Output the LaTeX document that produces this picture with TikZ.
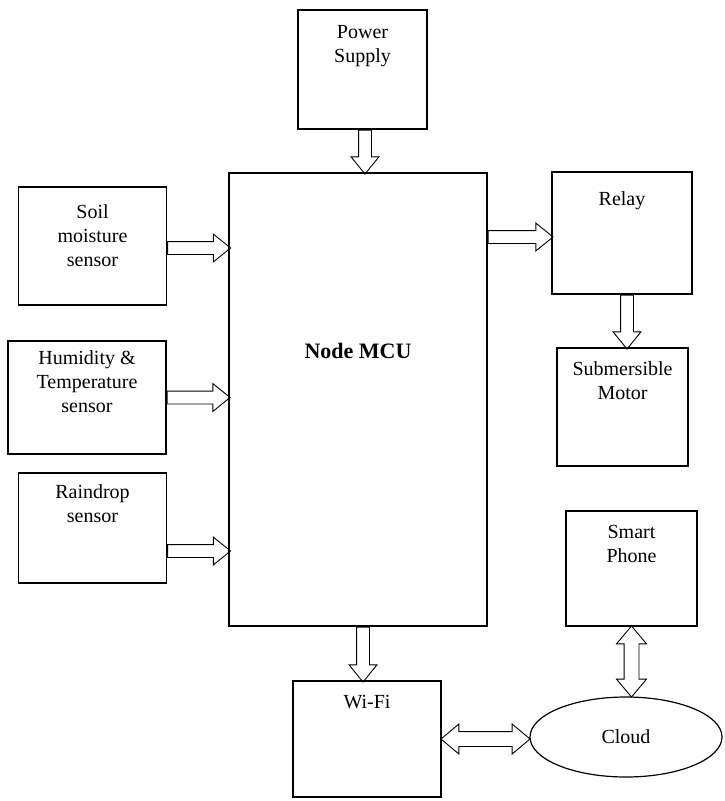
\documentclass[tikz,border=0pt]{standalone}
\usepackage{fontspec}
\setmainfont{Liberation Serif}
\usetikzlibrary{positioning,calc,shapes.geometric,shapes.arrows}

\tikzset{
  blk/.style={draw, line width=1.2pt, inner sep=0pt},
  lbl/.style={align=center, inner sep=0pt, font=\fontsize{20}{24}\selectfont},
  barrow/.style={single arrow, draw, line width=0.9pt, inner sep=6pt, anchor=tail,
    single arrow head extend=7.5pt, single arrow tip angle=78},
  darrow/.style={double arrow, draw, line width=0.9pt, inner sep=7pt,
    double arrow head extend=7.5pt, double arrow tip angle=80},
}

\begin{document}
\begin{tikzpicture}[x=1pt,y=-1pt]
  \useasboundingbox (0,0) rectangle (724,801);

% blocks
  \node[blk, minimum width=129pt, minimum height=119pt] (pwr)   at (362.5,69.5) {};
  \node[blk, minimum width=258pt, minimum height=453pt] (mcu)   at (358,399.5) {};
  \node[blk, minimum width=148pt, minimum height=118pt] (soil)  at (92.5,246) {};
  \node[blk, minimum width=158pt, minimum height=113pt] (hum)   at (87,397.5) {};
  \node[blk, minimum width=148pt, minimum height=110pt] (rain)  at (92.5,528) {};
  \node[blk, minimum width=140pt, minimum height=122pt] (relay) at (622,233) {};
  \node[blk, minimum width=131pt, minimum height=118pt] (motor) at (622.5,407) {};
  \node[blk, minimum width=131pt, minimum height=115pt] (phone) at (631.5,568.5) {};
  \node[blk, minimum width=148pt, minimum height=116pt] (wifi)  at (367,739) {};
  \node[blk, ellipse, minimum width=192pt, minimum height=80pt, lbl] (cloud) at (626,737) {Cloud};

% texts
  \node[lbl, below=16pt of pwr.north]   (pwrtxt)   {Power\\Supply};
  \node[lbl, below=171pt of mcu.north, font=\bfseries\fontsize{22}{26}\selectfont] (mcutxt) {Node MCU};
  \node[lbl, below=18pt of soil.north]  (soiltxt)  {Soil\\moisture\\sensor};
  \node[lbl, below=10pt of hum.north]   (humtxt)   {Humidity \&\\Temperature\\sensor};
  \node[lbl, below=12pt of rain.north]  (raintxt)  {Raindrop\\sensor};
  \node[lbl, below=20pt of relay.north] (relaytxt) {Relay};
  \node[lbl, below=14pt of motor.north] (motortxt) {Submersible\\Motor};
  \node[lbl, below=15pt of phone.north] (phonetxt) {Smart\\Phone};
  \node[lbl, below=15pt of wifi.north]  (wifitxt)  {Wi-Fi};

% block arrows (tail sits on the sending block)
  \path ($(pwr.south)+(2.5,0)$) -- node[barrow, at start, minimum height=44pt, shape border rotate=270] {} ($(pwr.south |- mcu.north)+(2.5,0)$);
  \path ($(soil.east)+(0,2)$) -- node[barrow, at start, minimum height=63pt] {} ($(soil.east -| mcu.west)+(0,2)$);
  \path (hum.east) -- node[barrow, at start, minimum height=63pt] {} (hum.east -| mcu.west);
  \path ($(rain.east)+(0,23)$) -- node[barrow, at start, minimum height=63pt] {} ($(rain.east -| mcu.west)+(0,23)$);
  \path ($(mcu.east |- relay.west)+(0,4)$) -- node[barrow, at start, minimum height=65pt] {} ($(relay.west)+(0,4)$);
  \path ($(relay.south)+(5,0)$) -- node[barrow, at start, minimum height=54pt, shape border rotate=270] {} ($(relay.south |- motor.north)+(5,0)$);
  \path ($(mcu.south)+(5,0)$) -- node[barrow, at start, minimum height=55pt, shape border rotate=270] {} ($(mcu.south |- wifi.north)+(5,0)$);
  \path (wifi.east) -- node[darrow, minimum height=89pt] {} (wifi.east -| cloud.west);
  \path (phone.south) -- node[darrow, minimum height=71pt, shape border rotate=90] {} (phone.south |- cloud.north);

\end{tikzpicture}
\end{document}
